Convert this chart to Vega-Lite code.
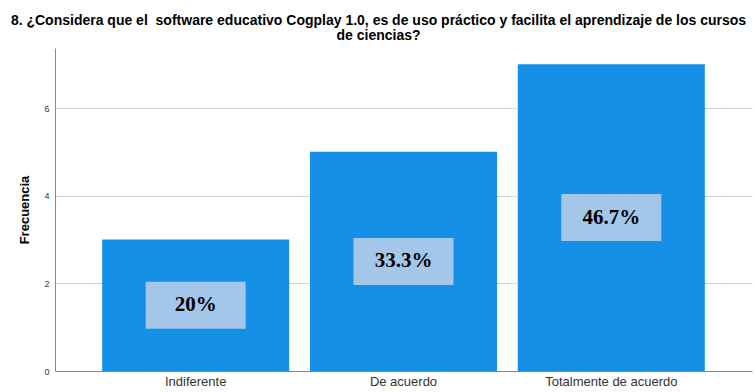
{
  "$schema": "https://vega.github.io/schema/vega-lite/v6.json",
  "width": 697,
  "height": 323,
  "autosize": "none",
  "padding": {"left": 55, "top": 48, "right": 3, "bottom": 21},
  "background": "white",
  "title": {
    "text": ["8. ¿Considera que el \u00a0software educativo Cogplay 1.0, es de uso práctico y facilita el aprendizaje de los cursos", "de ciencias?"],
    "font": "Liberation Sans",
    "fontSize": 14,
    "fontWeight": "bold",
    "color": "#000000",
    "anchor": "middle",
    "frame": "group",
    "dx": -25,
    "offset": 5,
    "lineHeight": 15
  },
  "data": {
    "values": [
      {"Respuesta": "Indiferente", "Frecuencia": 3, "Porcentaje": "20%"},
      {"Respuesta": "De acuerdo", "Frecuencia": 5, "Porcentaje": "33.3%"},
      {"Respuesta": "Totalmente de acuerdo", "Frecuencia": 7, "Porcentaje": "46.7%"}
    ]
  },
  "transform": [{"calculate": "datum.Frecuencia / 2", "as": "mid"}],
  "encoding": {
    "x": {
      "field": "Respuesta",
      "type": "nominal",
      "sort": null,
      "scale": {"paddingInner": 0.1, "paddingOuter": 0.227},
      "axis": {
        "title": null,
        "labelAngle": 0,
        "labelFont": "Liberation Sans",
        "labelFontSize": 13,
        "labelColor": "#333333",
        "labelPadding": 4,
        "ticks": false,
        "domainColor": "#888888",
        "grid": false
      }
    }
  },
  "layer": [
    {
      "mark": {"type": "bar", "color": "#1490e6"},
      "encoding": {
        "y": {
          "field": "Frecuencia",
          "type": "quantitative",
          "scale": {"domain": [0, 7.37], "nice": false},
          "axis": {
            "title": "Frecuencia",
            "titleFont": "Liberation Sans",
            "titleFontSize": 13,
            "titleFontWeight": "bold",
            "titleColor": "#000000",
            "titlePadding": 12,
            "values": [0, 2, 4, 6],
            "labelFont": "Liberation Sans",
            "labelFontSize": 9,
            "labelColor": "#333333",
            "labelPadding": 6,
            "ticks": false,
            "domainColor": "#888888",
            "gridColor": "#d4d4d4",
            "grid": true
          }
        }
      }
    },
    {
      "mark": {"type": "point", "shape": "M-1,-0.47L1,-0.47L1,0.47L-1,0.47Z", "size": 10000, "filled": true, "opacity": 1, "color": "#a3c6e9"},
      "encoding": {"y": {"field": "mid", "type": "quantitative"}}
    },
    {
      "mark": {"type": "text", "font": "Liberation Serif", "fontSize": 21, "fontWeight": "bold", "color": "#000000", "baseline": "middle"},
      "encoding": {
        "y": {"field": "mid", "type": "quantitative"},
        "text": {"field": "Porcentaje"}
      }
    }
  ],
  "config": {"view": {"stroke": null}}
}
